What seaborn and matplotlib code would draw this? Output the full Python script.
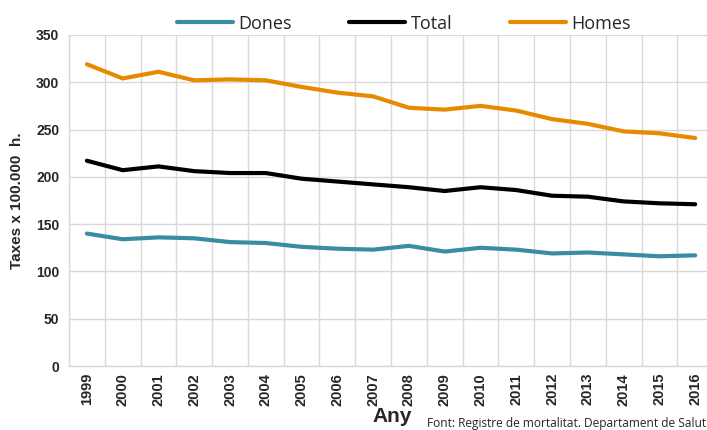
import matplotlib
matplotlib.use("Agg")
import matplotlib.pyplot as plt
import seaborn as sns
import pandas as pd
import numpy as np

years = [str(y) for y in range(1999, 2017)]
dones = [140, 134, 136, 135, 131, 130, 126, 124, 123, 127, 121, 125, 123, 119, 120, 118, 116, 117]
total = [217, 207, 211, 206, 204, 204, 198, 195, 192, 189, 185, 189, 186, 180, 179, 174, 172, 171]
homes = [319, 304, 311, 302, 303, 302, 295, 289, 285, 273, 271, 275, 270, 261, 256, 248, 246, 241]

series_names = ["Dones", "Total", "Homes"]
colors = ["#3A8CA2", "#000000", "#E68A00"]

df = pd.DataFrame({
    "Any": years * 3,
    "Taxa": dones + total + homes,
    "Serie": ["Dones"] * len(years) + ["Total"] * len(years) + ["Homes"] * len(years),
})

sns.set_style("white")
plt.rcParams["font.family"] = ["Liberation Sans", "DejaVu Sans"]

fig = plt.figure(figsize=(7.07, 4.30), dpi=100)
ax = fig.add_axes([0.0976, 0.1488, 0.911, 0.77])

sns.lineplot(data=df, x="Any", y="Taxa", hue="Serie", hue_order=series_names,
             palette=colors, linewidth=3, ax=ax, sort=False)

n = len(years)
ax.set_xlim(-0.5, n - 0.5)
ax.set_ylim(0, 350)
ax.set_yticks(np.arange(0, 351, 50))
ax.set_xticks(range(n))
ax.set_xticklabels(years, rotation=90, fontweight="bold", fontsize=10.5)
ax.set_xticks(np.arange(-0.5, n, 1), minor=True)
ax.tick_params(axis="x", which="major", length=0, pad=5)
ax.tick_params(axis="x", which="minor", length=5, color="#D9D9D9", width=1)
ax.tick_params(axis="y", length=0, pad=7)
for lab in ax.get_yticklabels():
    lab.set_fontweight("bold")
    lab.set_fontsize(10)

ax.grid(True, which="minor", axis="x", color="#D9D9D9", linewidth=1)
ax.grid(True, which="major", axis="y", color="#D9D9D9", linewidth=1)
ax.set_axisbelow(True)
for side in ["top", "right"]:
    ax.spines[side].set_visible(False)
for side in ["left", "bottom"]:
    ax.spines[side].set_color("#D9D9D9")
    ax.spines[side].set_linewidth(1)

ax.set_xlabel("")
ax.set_ylabel("Taxes x 100.000  h.", fontweight="bold", fontsize=11, labelpad=9)
fig.text(0.555, 0.018, "Any", fontweight="bold", fontsize=15, ha="center")
fig.text(0.604, 0.006, "Font: Registre de mortalitat. Departament de Salut",
         fontsize=8.6, family=["Open Sans", "DejaVu Sans"], ha="left")

leg = ax.legend(loc="lower center", bbox_to_anchor=(0.52, 0.985), ncol=3, frameon=False,
                handlelength=3.1, columnspacing=3.2, handletextpad=0.3,
                prop={"family": ["Open Sans", "DejaVu Sans"], "size": 13},
                borderaxespad=0.0)

fig.savefig("out.png", dpi=100)
